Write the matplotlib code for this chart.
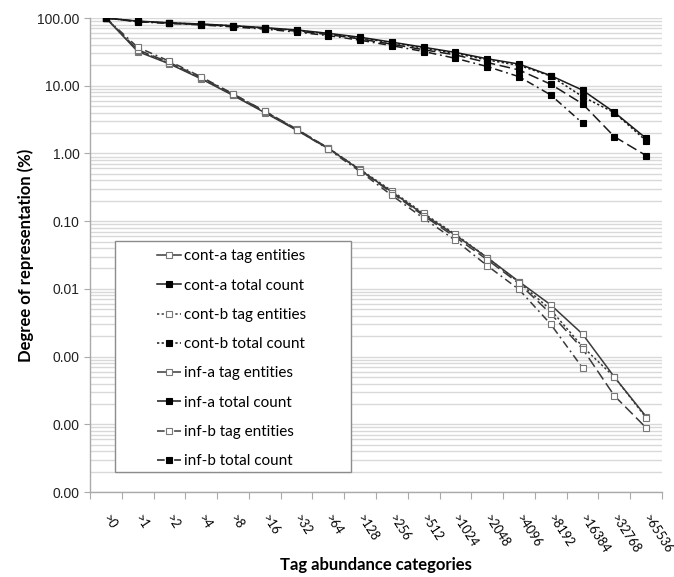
import numpy as np
import matplotlib
matplotlib.use("Agg")
import matplotlib.pyplot as plt
import matplotlib.patches as mpatches
import matplotlib.transforms as mtransforms
from matplotlib.ticker import FixedLocator, NullFormatter, FuncFormatter

categories = [">0", ">1", ">2", ">4", ">8", ">16", ">32", ">64", ">128", ">256",
              ">512", ">1024", ">2048", ">4096", ">8192", ">16384", ">32768", ">65536"]

cont_a_tag = [100, 32, 21, 12.6, 7.2, 4.0, 2.2, 1.18, 0.57, 0.27, 0.125, 0.062,
              0.029, 0.0128, 0.0058, 0.00215, 0.0005, 0.00013]
cont_a_total = [100, 90, 85, 81.5, 77, 72, 66.6, 59.4, 52, 44, 37, 31, 25, 20.9,
                14.1, 8.6, 4.05, 1.67]
cont_b_tag = [100, 33, 21.5, 12.8, 7.3, 4.1, 2.25, 1.2, 0.58, 0.28, 0.13, 0.064,
              0.029, 0.0125, 0.0049, 0.0014, 0.0005, 0.000125]
cont_b_total = [100, 89, 84.5, 81, 76.5, 71, 65.5, 58.5, 51, 43, 36, 30, 24, 20,
                13.9, 6.9, 4.0, 1.54]
inf_a_tag = [100, 34, 22, 13.2, 7.5, 4.2, 2.3, 1.2, 0.57, 0.26, 0.12, 0.058,
             0.027, 0.012, 0.0043, 0.0013, 0.000264, 0.0000888]
inf_a_total = [100, 89, 84, 80, 75.5, 70, 64, 57, 49, 41, 34, 28.5, 22, 17.1,
               10.5, 5.4, 1.77, 0.93]
inf_b_tag = [100, 37, 23, 13.5, 7.6, 4.2, 2.25, 1.15, 0.54, 0.24, 0.11, 0.052,
             0.022, 0.0098, 0.0030, 0.00068, np.nan, np.nan]
inf_b_total = [100, 88, 83, 79, 74, 68.5, 62, 55, 47, 39, 32, 25.4, 19.2, 13.6,
               7.3, 2.8, np.nan, np.nan]

series = [
    ("cont-a tag entities", cont_a_tag, "-", False),
    ("cont-a total count", cont_a_total, "-", True),
    ("cont-b tag entities", cont_b_tag, (0, (1.5, 1.5)), False),
    ("cont-b total count", cont_b_total, (0, (1.5, 1.5)), True),
    ("inf-a tag entities", inf_a_tag, (0, (7, 3)), False),
    ("inf-a total count", inf_a_total, (0, (7, 3)), True),
    ("inf-b tag entities", inf_b_tag, (0, (5, 2.5, 1.2, 2.5)), False),
    ("inf-b total count", inf_b_total, (0, (5, 2.5, 1.2, 2.5)), True),
]

label_font = "Lato"

fig = plt.figure(figsize=(6.74, 5.77), dpi=100)
ax = fig.add_axes([90 / 674, 1 - 492 / 577, 572 / 674, 474 / 577])

x = np.arange(len(categories))
for name, vals, ls, filled in series:
    ax.plot(x, vals, linestyle=ls, color="#1a1a1a" if filled else "#3a3a3a",
            lw=1.1, marker="s", ms=4.2 if filled else 4.5,
            mfc="black" if filled else "white",
            mec="black" if filled else "#777777", mew=0.8,
            label=name, zorder=3)

ax.set_yscale("log")
ax.set_ylim(1e-5, 100)
ax.set_xlim(-0.5, len(categories) - 0.5)

ax.yaxis.set_major_locator(FixedLocator([10.0 ** k for k in range(-5, 3)]))
ax.yaxis.set_major_formatter(FuncFormatter(lambda v, p: f"{v:.2f}"))
minor = [m * 10.0 ** k for k in range(-5, 2) for m in range(2, 10)]
ax.yaxis.set_minor_locator(FixedLocator(minor))
ax.yaxis.set_minor_formatter(NullFormatter())
ax.grid(True, which="both", axis="y", color="#d9d9d9", lw=1.0, zorder=0)
ax.set_axisbelow(True)

ax.set_xticks(np.arange(len(categories) + 1) - 0.5)
ax.set_xticklabels([])
ax.set_xticks(x, minor=True)
ax.set_xticklabels(categories, minor=True, rotation=-57, ha="left", va="center",
                   rotation_mode="anchor", fontfamily=label_font, fontsize=9)
shift = mtransforms.ScaledTranslation(-3 / 72, 0, fig.dpi_scale_trans)
for lab in ax.get_xticklabels(minor=True):
    lab.set_transform(lab.get_transform() + shift)
ax.tick_params(axis="x", which="major", length=5, color="#aaaaaa", direction="out")
ax.tick_params(axis="x", which="minor", length=0, pad=17)
ax.tick_params(axis="y", which="major", length=4, color="#aaaaaa", labelsize=10,
               labelcolor="#222222")
ax.tick_params(axis="y", which="minor", length=0)
for lab in ax.get_yticklabels():
    lab.set_fontfamily("Liberation Sans")

for s in ["top", "right"]:
    ax.spines[s].set_visible(False)
for s in ["left", "bottom"]:
    ax.spines[s].set_color("#aaaaaa")
    ax.spines[s].set_linewidth(1.0)

ax.set_ylabel("Degree of representation (%)", fontfamily=label_font,
              fontweight="bold", fontsize=12)
ax.yaxis.set_label_coords(-0.098, 0.5)
ax.set_xlabel("Tag abundance categories", fontfamily=label_font,
              fontweight="bold", fontsize=12)
ax.xaxis.set_label_coords(0.5, -0.137)

# legend box
box = mpatches.Rectangle((0.0437, 0.042), 0.456 - 0.0437, 0.5295 - 0.042,
                         transform=ax.transAxes, facecolor="white",
                         edgecolor="#8c8c8c", lw=1.0, zorder=5)
ax.add_patch(box)
leg = ax.legend(loc="upper left", bbox_to_anchor=(0.117, 0.512), frameon=False,
                borderpad=0, borderaxespad=0, handlelength=1.6,
                handletextpad=0.2, labelspacing=1.0,
                prop={"family": label_font, "size": 11})
leg.set_zorder(6)

fig.savefig("out.png", dpi=100)
